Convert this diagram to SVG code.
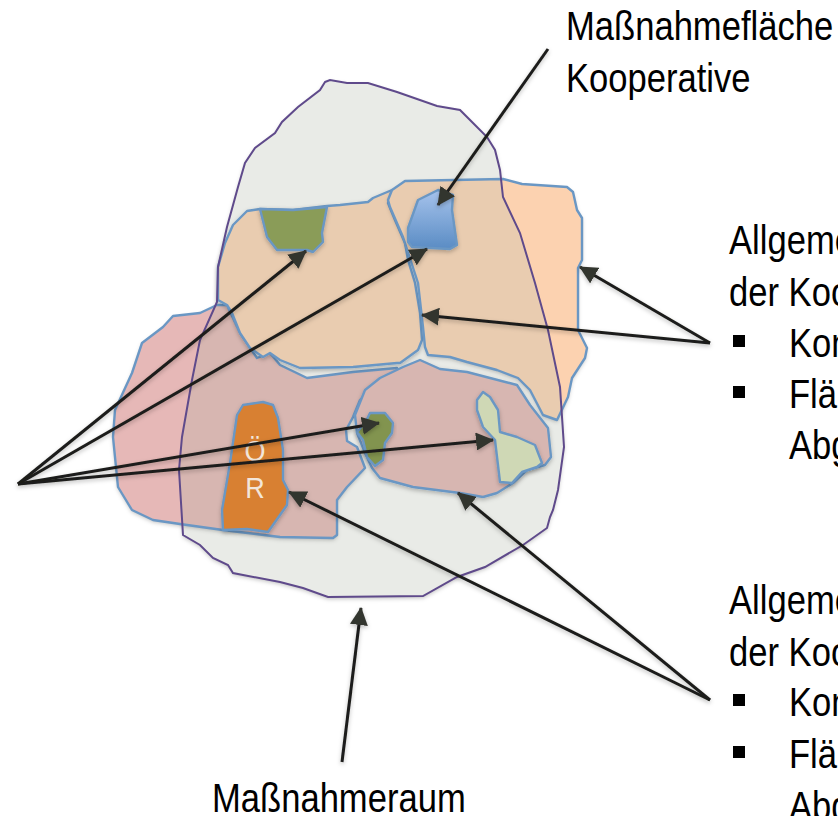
<svg xmlns="http://www.w3.org/2000/svg" width="838" height="816" viewBox="0 0 838 816">
<defs>
<linearGradient id="blue" x1="0" y1="0" x2="0" y2="1"><stop offset="0" stop-color="#a6c3ec"/><stop offset="1" stop-color="#5a8cc4"/></linearGradient>
<filter id="sh" x="-10%" y="-10%" width="120%" height="125%"><feDropShadow dx="0" dy="2" stdDeviation="2" flood-color="#000" flood-opacity="0.25"/></filter>
<marker id="ah" markerUnits="userSpaceOnUse" markerWidth="18" markerHeight="18" refX="17" refY="9" orient="auto"><path d="M0 0L18 9L0 18Z" fill="#33352f"/></marker>
<path id="pr" d="M325 82L330 80L347 83L368 83L397 92L437 106L460 110L473 123L487 137L495 150L500 170L503 197L520 233L535 283L548 330L560 387L564 447L558 490L553 510L550 517L547 528L523 545L485 567L457 577L423 596L328 597L303 588L280 582L233 573L228 565L213 558L200 545L183 535L179 470L182 437L192 380L200 340L217 302L218 267L227 227L238 187L245 163L255 148L275 133L282 122L298 107L320 90Z"/>
<path id="pp" d="M227 305L217 305L200 313L173 316L163 327L142 343L132 373L115 410L113 437L118 487L132 510L153 520L180 524L223 530L280 537L333 538L337 535L337 500L347 487L365 468L357 447L347 441L346 430L353 417L360 400L373 387L398 370L397 368L353 372L307 378L280 365L270 353L257 358L240 333Z"/>
<path id="po" d="M392 190L405 181L503 179L522 184L567 187L573 192L577 210L582 218L582 260L578 268L578 330L587 348L585 358L572 378L568 397L557 420L543 415L530 390L518 378L497 370L467 362L450 357L428 355L425 347L423 327L418 283L403 237L390 207L388 200Z"/>
<clipPath id="rc"><use href="#pr"/></clipPath>
</defs>
<style>
text{font-family:"Liberation Sans",Arial,sans-serif;font-size:34.6px;fill:#000}
.oe{font-size:27px;fill:#f3e6da;text-anchor:middle}
.a{stroke:#6a97c4;stroke-width:2.4;stroke-linejoin:round}
.n{fill:none;stroke:#6a97c4;stroke-width:2.4;stroke-linejoin:round}
.k{fill:none;stroke:#1c1d1a;stroke-width:3;marker-end:url(#ah)}
</style>
<g id="massnahmeraum-flaeche"><use href="#pr" fill="#e9ebe7" filter="url(#sh)"/></g>
<g id="flaeche-pink"><use href="#pp" fill="#e6b8b7" filter="url(#sh)"/><use href="#pp" fill="#d7b6b1" clip-path="url(#rc)"/><use href="#pp" class="n"/></g>
<g id="flaeche-orange-links"><path class="a" filter="url(#sh)" fill="#e9ccb0" d="M260 209L247 211L233 225L225 243L218 267L218 300L227 305L232 313L240 333L250 348L263 357L270 353L280 360L300 368L353 367L397 363L400 363L418 350L422 340L420 313L415 283L408 260L405 243L395 220L388 203L392 190L373 198L368 202L340 205L327 206L293 210Z"/></g>
<g id="flaeche-orange-rechts"><use href="#po" fill="#fcd2b0" filter="url(#sh)"/><use href="#po" fill="#e9ccb0" clip-path="url(#rc)"/><use href="#po" class="n"/></g>
<g id="flaeche-kooperativ-unten"><path class="a" filter="url(#sh)" fill="#d7b6b1" d="M420 360L440 369L467 372L517 385L530 405L548 428L551 457L545 465L527 470L513 483L497 493L483 497L460 493L413 487L380 478L372 468L365 453L357 433L355 415L365 390L380 378L403 367Z"/></g>
<g id="massnahmeraum-linie"><use href="#pr" fill="none" stroke="#5f4a8b" stroke-width="2"/></g>
<g id="massnahme-gruen-oben"><path class="a" filter="url(#sh)" fill="#8a9c59" d="M260 209L293 210L327 207L322 233L323 242L313 252L307 250L277 250L267 237Z"/></g>
<g id="massnahme-blau"><path class="a" filter="url(#sh)" fill="url(#blue)" d="M418 200L438 190L453 195L452 210L457 245L450 249L412 247L408 242L408 228Z"/></g>
<g id="oer"><path class="a" filter="url(#sh)" fill="#d88032" d="M243 405L263 402L273 405L278 418L283 450L283 480L288 490L287 505L268 532L247 529L223 530L222 510L230 463L237 415Z"/><text class="oe" transform="translate(255,461) scale(1,1.1)">Ö</text><text class="oe" transform="translate(255,498) scale(1,1.1)">R</text></g>
<g id="massnahme-gruen-mitte"><path class="a" filter="url(#sh)" fill="#82944f" d="M370 413L385 413L393 423L392 433L385 443L383 460L375 466L367 457L363 440L357 432L365 423Z"/></g>
<g id="massnahme-hellgruen"><path class="a" filter="url(#sh)" fill="#cfd8b5" d="M477 400L483 392L490 397L498 410L500 432L517 437L535 445L542 463L537 467L522 472L512 483L500 482L495 440L483 427L477 410Z"/></g>
<g id="connectors" filter="url(#sh)">
<path class="k" d="M548 49L438 205"/>
<path class="k" d="M18 484L306 251"/>
<path class="k" d="M18 484L427 249"/>
<path class="k" d="M18 484L379 423"/>
<path class="k" d="M18 484L493 440"/>
<path class="k" d="M710 343L580 267"/>
<path class="k" d="M710 343L422 315"/>
<path class="k" d="M710 700L289 492"/>
<path class="k" d="M710 700L458 493"/>
<path class="k" d="M342 762L361 608"/>
</g>
<g id="label-kooperative"><text transform="translate(566,40) scale(1,1.15)">Maßnahmefläche</text><text transform="translate(566,92) scale(1,1.15)">Kooperative</text></g>
<g id="label-oben"><text transform="translate(729,254) scale(1,1.15)">Allgeme</text><text transform="translate(729,306) scale(1,1.15)">der Koo</text><rect x="733" y="335" width="12" height="12"/><text transform="translate(789,357) scale(1,1.15)">Kon</text><rect x="733" y="386" width="12" height="12"/><text transform="translate(789,408) scale(1,1.15)">Flä</text><text transform="translate(789,459) scale(1,1.15)">Abg</text></g>
<g id="label-unten"><text transform="translate(729,614) scale(1,1.15)">Allgeme</text><text transform="translate(729,666) scale(1,1.15)">der Koo</text><rect x="733" y="694" width="12" height="12"/><text transform="translate(789,716) scale(1,1.15)">Kon</text><rect x="733" y="746" width="12" height="12"/><text transform="translate(789,768) scale(1,1.15)">Flä</text><text transform="translate(789,820) scale(1,1.15)">Abg</text></g>
<g id="label-raum"><text transform="translate(212,812) scale(1,1.15)">Maßnahmeraum</text></g>
</svg>
